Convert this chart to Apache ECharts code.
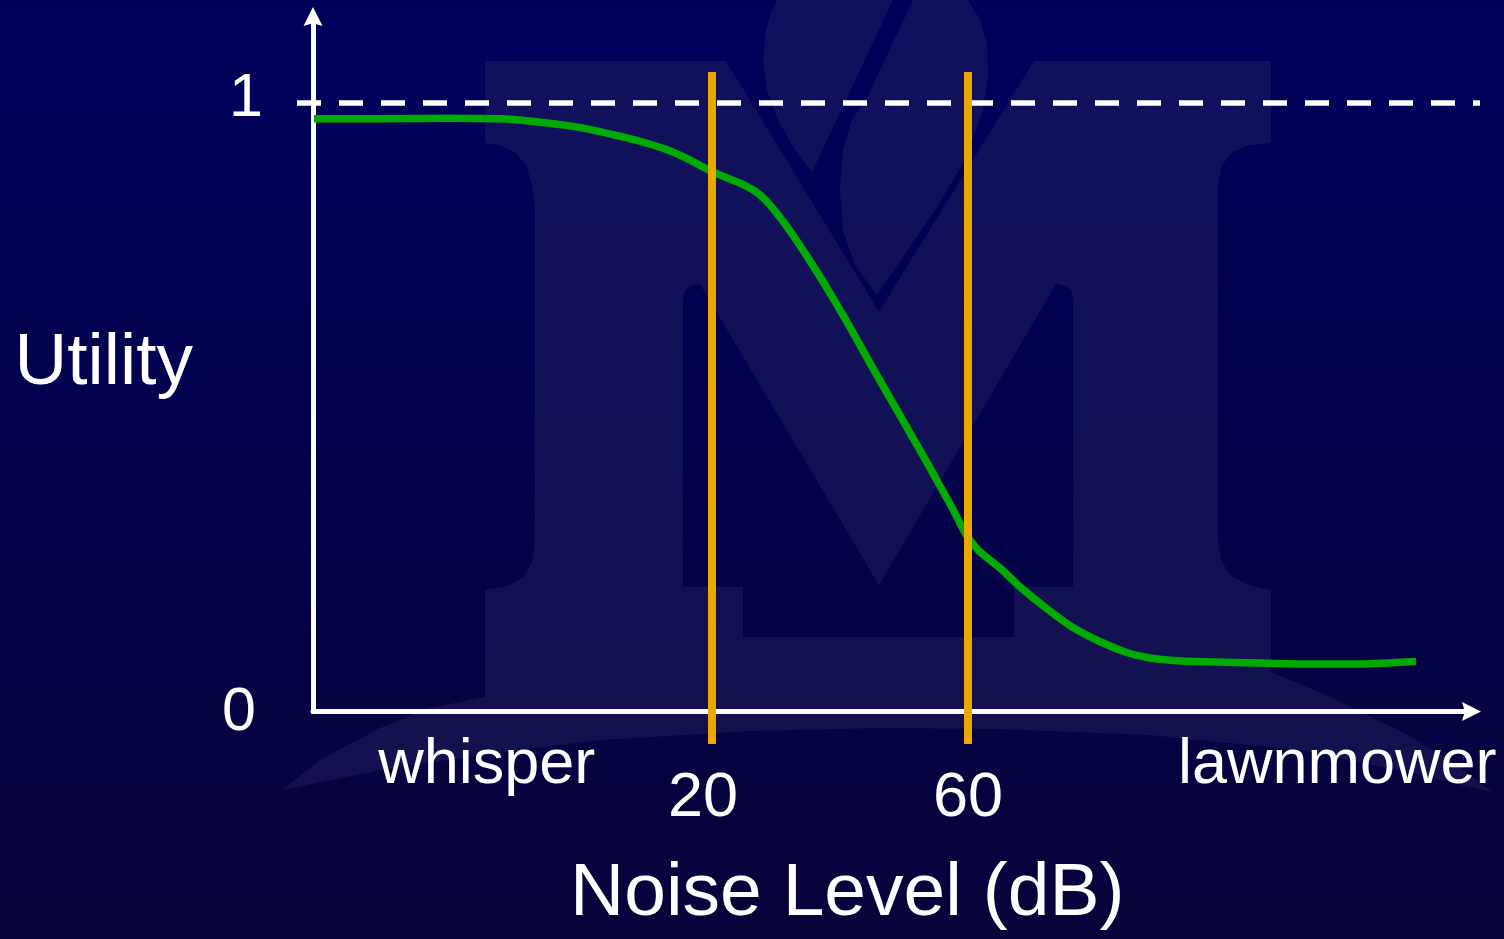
<!DOCTYPE html>
<html>
<head>
<meta charset="utf-8">
<script src="https://cdn.jsdelivr.net/npm/echarts@6/dist/echarts.min.js"></script>
<style>
  html, body { margin: 0; padding: 0; overflow: hidden; background: #00005c; }
  #chart { width: 1504px; height: 939px; }
</style>
</head>
<body>
<div id="chart"></div>
<script>
// Perceived utility of ambient sound as the noise level rises.
const noiseDb = [-42.2, -31.9, -20.9, -13.1, -8.3, -1.4, 4.5, 8.75, 13.0, 16.6, 20.0, 24.8, 27.5, 29.8,
  32.7, 36.9, 41.1, 45.2, 49.4, 53.6, 57.7, 59.8, 61.9, 65.0, 68.0, 72.8, 76.4, 80.6, 84.8, 88.4,
  93.4, 104.1, 111.9, 121.6, 130.0];
const utility = [0.974, 0.974, 0.975, 0.974, 0.970, 0.961, 0.948, 0.937, 0.923, 0.906, 0.887, 0.866, 0.849, 0.823,
  0.782, 0.714, 0.640, 0.563, 0.486, 0.409, 0.331, 0.289, 0.262, 0.236, 0.206, 0.165, 0.138, 0.115, 0.097, 0.088,
  0.083, 0.080, 0.078, 0.078, 0.082];
const thresholdsDb = [20, 60];
const ceilingUtility = 1;
const yTickValues = [0, 1];
const xLabelText = ['whisper', '20', '60', 'lawnmower'];
const xLabelAt = [-15.2, 20, 60, 117.7];
const xTitle = 'Noise Level (dB)';
const yTitle = 'Utility';

// axis extents
const X_MIN = -42.34, X_MAX = 138.67;
const Y_MIN = 0, Y_MAX = 1.142;

const FONT = '"Liberation Sans", Arial, Helvetica, sans-serif';
const G = echarts.graphic;
const bgFill = new G.LinearGradient(0, 0, 0, 939, [
  { offset: 0, color: '#00005c' }, { offset: 1, color: '#07043a' }], true);
const markFill = new G.LinearGradient(0, 0, 0, 939, [
  { offset: 0, color: '#10105f' }, { offset: 1, color: '#14114a' }], true);

// faint college emblem behind the plot
const emblemBody = [[485,61],[726,61],[879,312],[1034,61],[1271,61],[1271,143],[1250,145],[1232,152],[1222,165],
  [1218,185],[1218,205],[1218,540],[1221,560],[1230,575],[1248,585],[1271,590],[1271,672],[1330,697],[1400,731],
  [1450,760],[1492,792],[1400,770],[1300,750],[1150,735],[1000,729],[880,728],[750,731],[600,740],[480,755],
  [380,770],[282,790],[320,760],[380,728],[430,708],[485,697],[485,590],[508,586],[524,577],[532,562],[535,540],
  [535,205],[532,185],[526,165],[515,152],[500,145],[485,143]];
const emblemHole = [[700,284],[690,286],[684,292],[683,300],[683,587],[743,587],[743,637],[1014,637],[1014,587],
  [1073,587],[1073,300],[1072,292],[1066,286],[1056,284],[879,585]];
const flameLeft = [[777,0],[893,0],[812,172],[795,150],[778,120],[767,90],[763,60],[766,30],[771,12]];
const flameRight = [[913,0],[968,0],[980,20],[987,45],[988,75],[983,110],[965,160],[935,210],[877,295],
  [855,265],[843,230],[840,190],[843,150],[852,120],[866,100]];

// solid arrow head, tip pointing up before the axis rotates it
const ARROW = 'path://M10,0 L20,20 L10,17 L0,20 Z';

const labelByValue = {};
xLabelAt.forEach((v, i) => { labelByValue[v] = xLabelText[i]; });

const chart = echarts.init(document.getElementById('chart'), null, { renderer: 'canvas' });
chart.setOption({
  backgroundColor: 'transparent',
  animation: false,
  textStyle: { fontFamily: FONT },
  graphic: {
    elements: [
      { type: 'rect', z: -100, silent: true, shape: { x: 0, y: 0, width: 1504, height: 939 }, style: { fill: bgFill } },
      { type: 'polygon', z: -99, silent: true, shape: { points: emblemBody }, style: { fill: markFill } },
      { type: 'polygon', z: -98, silent: true, shape: { points: emblemHole }, style: { fill: bgFill } },
      { type: 'polygon', z: -97, silent: true, shape: { points: flameLeft }, style: { fill: markFill } },
      { type: 'polygon', z: -97, silent: true, shape: { points: flameRight }, style: { fill: markFill } }
    ]
  },
  grid: { left: 313, right: 32.5, top: 16.5, bottom: 227.5, outerBoundsMode: 'none' },
  xAxis: {
    type: 'value', min: X_MIN, max: X_MAX,
    name: xTitle, nameLocation: 'middle', nameGap: 145, nameMoveOverlap: false,
    nameTextStyle: { color: '#ffffff', fontSize: 75, fontFamily: FONT, padding: [0, 90, 0, 0] },
    axisLine: { show: true, onZero: false, symbol: ['none', ARROW], symbolSize: [20, 19],
      lineStyle: { color: '#ffffff', width: 5 } },
    axisTick: { show: false },
    splitLine: { show: false },
    axisLabel: {
      customValues: xLabelAt, margin: 23, color: '#ffffff', fontSize: 63, fontFamily: FONT,
      formatter: v => {
        const t = labelByValue[v];
        if (t === undefined) return '';
        if (/^\d+$/.test(t)) return '{' + (t === '20' ? 'nl' : 'n') + '|' + t + '}';
        return '{w|' + t + '}';
      },
      rich: {
        w: { fontSize: 63, color: '#ffffff', fontFamily: FONT, lineHeight: 63 },
        n: { fontSize: 63, color: '#ffffff', fontFamily: FONT, lineHeight: 129 },
        nl: { fontSize: 63, color: '#ffffff', fontFamily: FONT, lineHeight: 129, padding: [0, 18, 0, 0] }
      }
    }
  },
  yAxis: {
    type: 'value', min: Y_MIN, max: Y_MAX, interval: 1,
    name: yTitle, nameLocation: 'middle', nameRotate: 0, nameGap: 120, nameMoveOverlap: false,
    nameTextStyle: { color: '#ffffff', fontSize: 73, fontFamily: FONT, padding: [0, 0, 22, 0] },
    axisLine: { show: true, onZero: false, symbol: ['none', ARROW], symbolSize: [20, 19],
      lineStyle: { color: '#ffffff', width: 5 } },
    axisTick: { show: false },
    splitLine: { show: false },
    axisLabel: {
      customValues: yTickValues, margin: 50, color: '#ffffff', fontSize: 61, fontFamily: FONT,
      formatter: v => (v === 0 ? '{zero|0}' : '{one|' + v + '}'),
      rich: {
        zero: { fontSize: 61, color: '#ffffff', fontFamily: FONT, padding: [4, 7, 0, 0] },
        one: { fontSize: 61, color: '#ffffff', fontFamily: FONT, padding: [0, 0, 8, 0] }
      }
    }
  },
  series: [
    {
      // dashed ceiling at utility 1, running a little past both axes
      name: 'ceiling', type: 'custom', clip: false, silent: true, z: 3,
      data: [[-44.84, ceilingUtility, 140.0]],
      encode: { x: 0, y: 1 },
      renderItem: (params, api) => {
        const a = api.coord([api.value(0), api.value(1)]);
        const b = api.coord([api.value(2), api.value(1)]);
        return {
          type: 'line',
          shape: { x1: a[0], y1: a[1], x2: b[0], y2: b[1] },
          style: { stroke: '#ffffff', lineWidth: 5.5, lineDash: [24, 18] }
        };
      }
    },
    {
      name: 'utility', type: 'line', smooth: 0.2, symbol: 'none', z: 4, silent: true,
      data: noiseDb.map((x, i) => [x, utility[i]]),
      lineStyle: { color: '#00aa00', width: 7.5, join: 'round' }
    },
    {
      name: 'thresholds', type: 'custom', clip: false, silent: true, z: 5,
      data: thresholdsDb.map(v => [v, 0]),
      encode: { x: 0, y: 1 },
      renderItem: (params, api) => {
        const top = api.coord([api.value(0), 1.051]);
        const bottom = api.coord([api.value(0), -0.0534]);
        return {
          type: 'line',
          shape: { x1: top[0], y1: top[1], x2: bottom[0], y2: bottom[1] },
          style: { stroke: '#eaa900', lineWidth: 8 }
        };
      }
    }
  ]
});
</script>
</body>
</html>
